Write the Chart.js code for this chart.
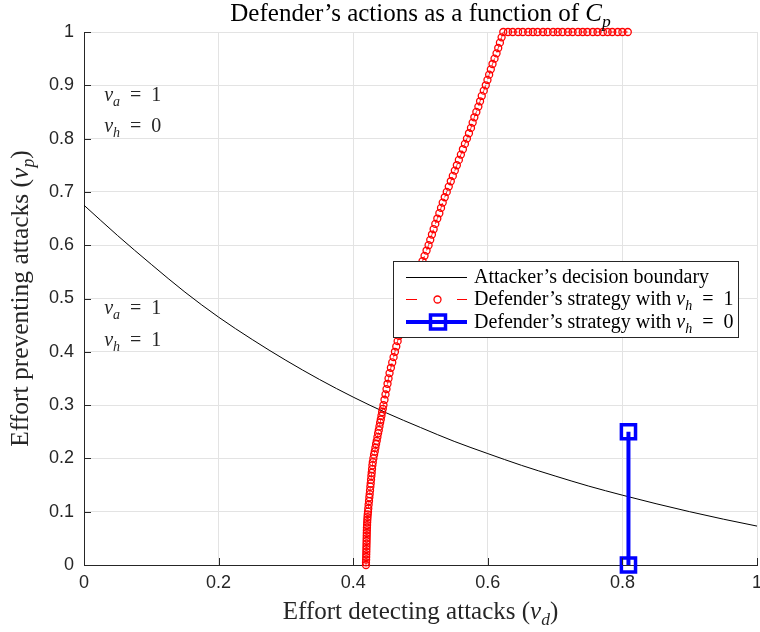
<!DOCTYPE html>
<html>
<head>
<meta charset="utf-8">
<script src="https://cdn.jsdelivr.net/npm/chart.js@4.4.1/dist/chart.umd.min.js"></script>
<style>
	html, body { margin: 0; padding: 0; background: #fff; }
	canvas { display: block; }
</style>
</head>
<body>
<canvas id="chart" width="760" height="632"></canvas>
<script>
// attacker's decision boundary
const boundaryX = [0, 0.05, 0.1, 0.15, 0.2, 0.25, 0.3, 0.35, 0.4, 0.45, 0.5, 0.55, 0.6, 0.65, 0.7, 0.75, 0.8, 0.85, 0.9, 0.95, 1];
const boundaryY = [0.675, 0.618, 0.564, 0.512, 0.465, 0.423, 0.384, 0.348, 0.315, 0.285, 0.258, 0.232, 0.209, 0.187, 0.167, 0.148, 0.131, 0.115, 0.1, 0.086, 0.073];

// defender's strategy with v_h = 1
const defenderX1 = [
	0.419, 0.419, 0.4192, 0.4193, 0.4194, 0.4195, 0.4196, 0.4197, 0.4198, 0.4199, 0.42, 0.4201, 0.4202, 0.4203, 0.4204, 0.4206, 0.4208, 0.421, 0.4213, 0.4216, 0.422,
	0.4224, 0.4229, 0.4235, 0.424, 0.4245, 0.425, 0.4255, 0.426, 0.4265, 0.427, 0.4275, 0.428, 0.4285, 0.4291, 0.43, 0.431, 0.432, 0.433, 0.434, 0.435, 0.436, 0.437, 0.438, 0.439, 0.44, 0.441, 0.442, 0.443, 0.444, 0.445,
	0.4465, 0.448, 0.4495, 0.451, 0.4525, 0.454, 0.456, 0.458, 0.46, 0.462, 0.464, 0.466, 0.468, 0.47, 0.472, 0.474, 0.4765, 0.479, 0.4815, 0.484, 0.4865, 0.489, 0.4915, 0.494, 0.497, 0.5, 0.503, 0.506, 0.509, 0.512,
	0.5145, 0.517, 0.5195, 0.522, 0.525, 0.528, 0.5305, 0.533, 0.536, 0.539, 0.542, 0.545, 0.548, 0.551, 0.554, 0.557, 0.56, 0.563, 0.566, 0.569, 0.572, 0.575, 0.5775, 0.58, 0.583, 0.586, 0.5885, 0.591, 0.594, 0.597, 0.5995, 0.602, 0.6045, 0.607, 0.61, 0.613, 0.6155, 0.618, 0.6205, 0.623,
	0.63, 0.637, 0.645, 0.652, 0.66, 0.667, 0.674, 0.682, 0.689, 0.697, 0.704, 0.711, 0.719, 0.726, 0.734, 0.741, 0.748, 0.756, 0.763, 0.771, 0.778, 0.785, 0.793, 0.8, 0.808
];
const defenderY1 = [
	0, 0.005, 0.01, 0.015, 0.02, 0.025, 0.03, 0.035, 0.04, 0.045, 0.05, 0.055, 0.06, 0.065, 0.07, 0.075, 0.08, 0.085, 0.09, 0.095, 0.1,
	0.106, 0.113, 0.12, 0.127, 0.133, 0.14, 0.147, 0.153, 0.16, 0.167, 0.173, 0.18, 0.187, 0.193, 0.2, 0.207, 0.213, 0.22, 0.227, 0.233, 0.24, 0.247, 0.253, 0.26, 0.267, 0.273, 0.28, 0.287, 0.293, 0.3,
	0.31, 0.32, 0.33, 0.34, 0.35, 0.36, 0.37, 0.38, 0.39, 0.4, 0.41, 0.42, 0.43, 0.44, 0.45, 0.46, 0.47, 0.48, 0.49, 0.5, 0.51, 0.52, 0.53, 0.54, 0.55, 0.56, 0.57, 0.58, 0.59, 0.6,
	0.61, 0.62, 0.63, 0.64, 0.65, 0.66, 0.67, 0.68, 0.69, 0.7, 0.71, 0.72, 0.73, 0.74, 0.75, 0.76, 0.77, 0.78, 0.79, 0.8, 0.81, 0.82, 0.83, 0.84, 0.85, 0.86, 0.87, 0.88, 0.89, 0.9, 0.91, 0.92, 0.93, 0.94, 0.95, 0.96, 0.97, 0.98, 0.99, 1,
	1, 1, 1, 1, 1, 1, 1, 1, 1, 1, 1, 1, 1, 1, 1, 1, 1, 1, 1, 1, 1, 1, 1, 1, 1
];

// defender's strategy with v_h = 0
const defenderX0 = [0.809, 0.809];
const defenderY0 = [0.25, 0];

const xTickLabels = ['0', '0.2', '0.4', '0.6', '0.8', '1'];
const yTickLabels = ['0', '0.1', '0.2', '0.3', '0.4', '0.5', '0.6', '0.7', '0.8', '0.9', '1'];

const SERIF = "'Liberation Serif', 'DejaVu Serif', serif",
	SANS = "'Liberation Sans', Arial, sans-serif",
	INK = '#262626';

const toPoints = (xs, ys) => xs.map((x, i) => ({ x, y: ys[i] }));

// rich text: segments with italic / subscript
const segFont = (s, size) => `${s.i ? 'italic ' : ''}${s.sub ? size * 0.7 : size}px ${SERIF}`;
const richWidth = (ctx, segs, size) =>
	segs.reduce((w, s) => {
		ctx.font = segFont(s, size);
		return w + ctx.measureText(s.t).width;
	}, 0);
const drawRich = (ctx, segs, x, y, size, align) => {
	let cx = align === 'center' ? x - richWidth(ctx, segs, size) / 2 : x;
	ctx.textAlign = 'left';
	ctx.textBaseline = 'alphabetic';
	for (const s of segs) {
		ctx.font = segFont(s, size);
		ctx.fillText(s.t, cx, y + (s.sub ? size * 0.24 : 0));
		cx += ctx.measureText(s.t).width;
	}
};
// v_sub = val, with TeX-like spacing round the equals sign
const mathEq = (sub, val) => [{ t: 'v', i: true }, { t: sub, i: true, sub: true }, { t: '\u2002=\u2002' + val }];

const decorations = {
	id: 'decorations',
	afterDraw(chart) {
		const { ctx, chartArea: a, scales } = chart;
		ctx.save();

		// inward ticks
		ctx.strokeStyle = INK;
		ctx.lineWidth = 1;
		ctx.beginPath();
		scales.x.ticks.forEach((t) => {
			const px = Math.round(scales.x.getPixelForValue(t.value)) + 0.5;
			ctx.moveTo(px, a.bottom);
			ctx.lineTo(px, a.bottom - 7);
		});
		scales.y.ticks.forEach((t) => {
			const py = Math.round(scales.y.getPixelForValue(t.value)) + 0.5;
			ctx.moveTo(a.left, py);
			ctx.lineTo(a.left + 7, py);
		});
		ctx.stroke();

		ctx.fillStyle = '#000';
		// title
		drawRich(ctx, [{ t: 'Defender’s actions as a function of ' }, { t: 'C', i: true }, { t: 'p', i: true, sub: true }], (a.left + a.right) / 2, 21, 25, 'center');

		// axis titles
		ctx.fillStyle = INK;
		drawRich(ctx, [{ t: 'Effort detecting attacks (' }, { t: 'v', i: true }, { t: 'd', i: true, sub: true }, { t: ')' }], (a.left + a.right) / 2, 619, 25, 'center');
		ctx.save();
		ctx.translate(28, (a.top + a.bottom) / 2);
		ctx.rotate(-Math.PI / 2);
		drawRich(ctx, [{ t: 'Effort preventing attacks (' }, { t: 'v', i: true }, { t: 'p', i: true, sub: true }, { t: ')' }], 0, 0, 25.5, 'center');
		ctx.restore();

		// region notes
		const nx = scales.x.getPixelForValue(0.03);
		drawRich(ctx, mathEq('a', '1'), nx, scales.y.getPixelForValue(0.87), 20);
		drawRich(ctx, mathEq('h', '0'), nx, scales.y.getPixelForValue(0.812), 20);
		drawRich(ctx, mathEq('a', '1'), nx, scales.y.getPixelForValue(0.471), 20);
		drawRich(ctx, mathEq('h', '1'), nx, scales.y.getPixelForValue(0.411), 20);

		// legend
		ctx.fillStyle = '#fff';
		ctx.fillRect(393, 261, 345, 76);
		ctx.strokeStyle = INK;
		ctx.lineWidth = 1;
		ctx.strokeRect(393.5, 261.5, 345, 76);

		ctx.strokeStyle = '#000';
		ctx.beginPath();
		ctx.moveTo(406, 277.5);
		ctx.lineTo(467, 277.5);
		ctx.stroke();

		ctx.strokeStyle = '#ff0000';
		ctx.beginPath();
		ctx.moveTo(406, 299.5);
		ctx.lineTo(417, 299.5);
		ctx.moveTo(457, 299.5);
		ctx.lineTo(467, 299.5);
		ctx.stroke();
		ctx.lineWidth = 1.3;
		ctx.beginPath();
		ctx.arc(437.5, 299.5, 3.5, 0, Math.PI * 2);
		ctx.stroke();

		ctx.strokeStyle = '#0000ff';
		ctx.lineWidth = 4;
		ctx.beginPath();
		ctx.moveTo(406, 322);
		ctx.lineTo(467, 322);
		ctx.stroke();
		ctx.lineWidth = 3.5;
		ctx.strokeRect(430.5, 315, 15, 14);

		ctx.fillStyle = '#000';
		drawRich(ctx, [{ t: 'Attacker’s decision boundary' }], 474, 283, 20);
		drawRich(ctx, [{ t: 'Defender’s strategy with ' }].concat(mathEq('h', '1')), 474, 305, 20);
		drawRich(ctx, [{ t: 'Defender’s strategy with ' }].concat(mathEq('h', '0')), 474, 328, 20);

		ctx.restore();
	},
};

new Chart(document.getElementById('chart'), {
	type: 'scatter',
	data: {
		datasets: [
			{
				label: 'Attacker’s decision boundary',
				data: toPoints(boundaryX, boundaryY),
				showLine: true,
				borderColor: '#000',
				borderWidth: 1,
				pointRadius: 0,
				cubicInterpolationMode: 'monotone',
				order: 2,
			},
			{
				label: 'Defender’s strategy with v_h = 1',
				data: toPoints(defenderX1, defenderY1),
				showLine: true,
				borderColor: '#ff0000',
				borderWidth: 0.8,
				borderDash: [8, 6],
				pointStyle: 'circle',
				pointRadius: 3.5,
				pointBorderWidth: 1.3,
				pointBorderColor: '#ff0000',
				pointBackgroundColor: 'rgba(0,0,0,0)',
				clip: false,
				order: 1,
			},
			{
				label: 'Defender’s strategy with v_h = 0',
				data: toPoints(defenderX0, defenderY0),
				showLine: true,
				borderColor: '#0000ff',
				borderWidth: 4,
				pointStyle: 'rect',
				pointRadius: 10,
				pointBorderWidth: 3.5,
				pointBorderColor: '#0000ff',
				pointBackgroundColor: 'rgba(0,0,0,0)',
				clip: false,
				order: 0,
			},
		],
	},
	options: {
		responsive: false,
		animation: false,
		layout: { autoPadding: false, padding: { left: 0, top: 32, right: 3, bottom: 0 } },
		plugins: {
			legend: { display: false },
			tooltip: { enabled: false },
		},
		scales: {
			x: {
				type: 'linear',
				min: 0,
				max: 1,
				ticks: {
					stepSize: 0.2,
					padding: 7,
					color: INK,
					font: { family: SANS, size: 18 },
					maxRotation: 0,
					callback: (v, i) => xTickLabels[i],
				},
				grid: { color: '#e3e3e3', drawTicks: false },
				border: { color: INK, width: 1 },
				afterFit: (scale) => {
					scale.height = 67;
					scale.paddingLeft = 0;
					scale.paddingRight = 0;
				},
			},
			y: {
				type: 'linear',
				min: 0,
				max: 1,
				ticks: {
					stepSize: 0.1,
					padding: 10,
					color: INK,
					autoSkip: false,
					font: { family: SANS, size: 18 },
					callback: (v, i) => yTickLabels[i],
				},
				grid: { color: '#e3e3e3', drawTicks: false },
				border: { color: INK, width: 1 },
				afterFit: (scale) => {
					scale.width = 84;
					scale.paddingTop = 0;
					scale.paddingBottom = 0;
				},
			},
		},
	},
	plugins: [decorations],
});
</script>
</body>
</html>
